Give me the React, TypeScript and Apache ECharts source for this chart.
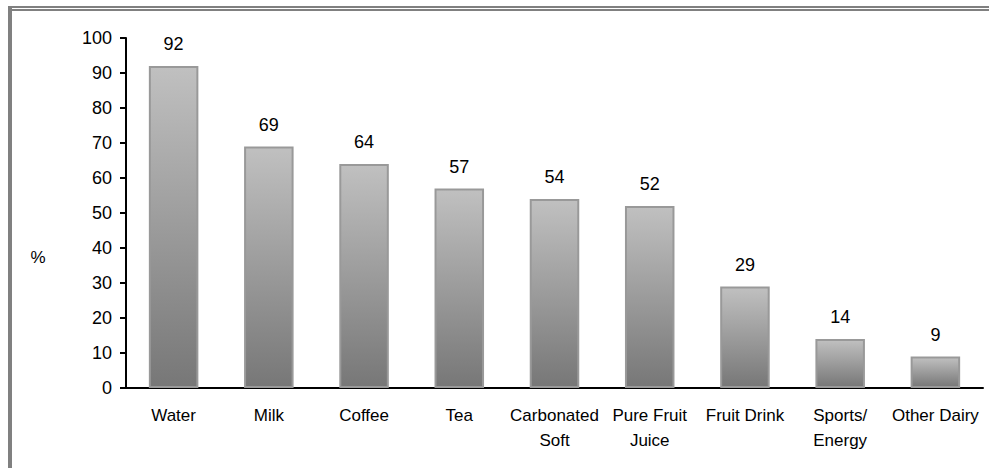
import React, { useEffect, useRef } from "react";
import * as echarts from "echarts";

const categories = ["Water", "Milk", "Coffee", "Tea", "Carbonated\nSoft", "Pure Fruit\nJuice", "Fruit Drink", "Sports/\nEnergy", "Other Dairy"];
const values = [92, 69, 64, 57, 54, 52, 29, 14, 9];
const yTicks = [0, 10, 20, 30, 40, 50, 60, 70, 80, 90, 100];

export default function App() {
  const ref = useRef<HTMLDivElement>(null);
  useEffect(() => {
    document.body.style.margin = "0";
    const chart = echarts.init(ref.current!, null, { renderer: "svg" });
    const font = "Liberation Sans, Arial, sans-serif";
    chart.setOption({
      animation: false,
      backgroundColor: "#ffffff",
      grid: { left: 126, right: 6, top: 38, bottom: 80, containLabel: false, outerBoundsMode: "none" },
      xAxis: {
        type: "category",
        data: categories,
        axisLine: { lineStyle: { color: "#000", width: 2 } },
        axisTick: { show: false },
        axisLabel: { color: "#000", fontFamily: font, fontSize: 17, lineHeight: 25, margin: 15, interval: 0 },
      },
      yAxis: {
        type: "value",
        min: yTicks[0],
        max: yTicks[yTicks.length - 1],
        interval: 10,
        splitLine: { show: false },
        axisLine: { show: true, lineStyle: { color: "#000", width: 2 } },
        axisTick: { show: true, length: 6, lineStyle: { color: "#000", width: 2 } },
        axisLabel: { color: "#000", fontFamily: font, fontSize: 18, margin: 14 },
      },
      series: [
        {
          type: "bar",
          data: values,
          barWidth: "52%",
          itemStyle: {
            color: new echarts.graphic.LinearGradient(0, 0, 0, 1, [
              { offset: 0, color: "#c0c0c0" },
              { offset: 1, color: "#777777" },
            ]),
            borderColor: "#999999",
            borderWidth: 2,
          },
          label: { show: true, position: "top", distance: 13, color: "#000", fontFamily: font, fontSize: 18 },
        },
      ],
      graphic: [
        { type: "rect", shape: { x: 8, y: 6, width: 1000, height: 2 }, style: { fill: "#808080" }, silent: true },
        { type: "rect", shape: { x: 12, y: 9, width: 1000, height: 2 }, style: { fill: "#808080" }, silent: true },
        { type: "rect", shape: { x: 8, y: 6, width: 4, height: 470 }, style: { fill: "#808080" }, silent: true },
        {
          type: "text",
          x: 38,
          y: 257,
          style: { text: "%", fill: "#000", font: "17px Liberation Sans, Arial, sans-serif", textAlign: "center", textVerticalAlign: "middle" },
          silent: true,
        },
      ],
    });
    return () => chart.dispose();
  }, []);
  return <div ref={ref} style={{ width: 989, height: 468 }} />;
}
